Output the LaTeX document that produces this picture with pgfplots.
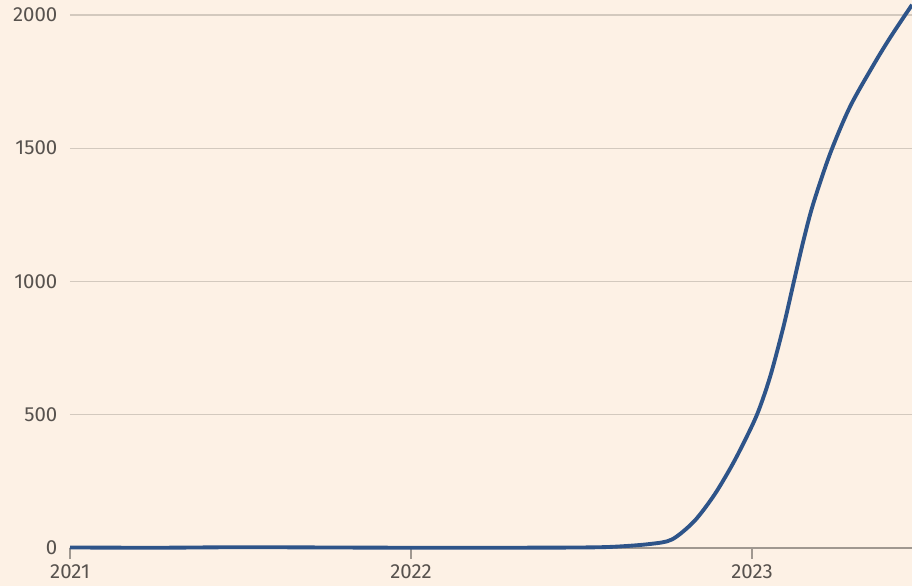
\documentclass[border=0pt]{standalone}
\usepackage{fontspec}
\setmainfont{Fira Sans}
\usepackage{pgfplots}
\pgfplotsset{compat=1.18}
\usetikzlibrary{backgrounds}
\definecolor{ftbg}{HTML}{FDF1E5}
\definecolor{ftline}{HTML}{2E5489}
\definecolor{ftgrid}{HTML}{D3C9BE}
\definecolor{fttext}{HTML}{57524E}
\definecolor{ftaxis}{HTML}{A09890}

\begin{document}
\begin{tikzpicture}
\begin{axis}[
  scale only axis,
  width=631.5pt,
  height=411pt,
  xmin=2021, xmax=2023.469,
  ymin=0, ymax=2056,
  axis line style={draw=none},
  xtick={2021,2022,2023},
  xticklabels={2021,2022,2023},
  ytick={0,500,1000,1500,2000},
  ymajorgrids=true,
  grid style={draw=ftgrid, line width=0.9pt},
  tick style={draw=ftaxis, line width=0.9pt},
  major tick length=8pt,
  xtick align=outside,
  ytick style={draw=none},
  xtick pos=bottom,
  ytick pos=left,
  /pgf/number format/assume math mode=true,
  /pgf/number format/1000 sep={},
  tick label style={font=\fontsize{15.3}{18}\selectfont, text=fttext},
  yticklabel style={anchor=east, xshift=-6pt},
  xticklabel style={yshift=-1pt},
  clip=false,
]
\addplot[ftaxis, line width=0.9pt, forget plot] coordinates {(2021,0) (2023.469,0)};
\addplot[ftline, line width=2.9pt, smooth, tension=0.5] coordinates {
  (2021.00,2) (2021.25,1) (2021.50,3) (2021.75,2) (2022.00,1)
  (2022.25,1) (2022.50,2) (2022.60,5) (2022.70,15) (2022.765,32)
  (2022.83,100) (2022.886,193) (2022.93,285) (2022.965,368)
  (2023.014,499) (2023.053,643) (2023.092,830) (2023.12,985)
  (2023.15,1150) (2023.179,1290) (2023.229,1480) (2023.287,1655)
  (2023.355,1810) (2023.405,1915) (2023.469,2038)
};
\coordinate (sw) at (rel axis cs:0,0);
\coordinate (ne) at (rel axis cs:1,1);
\end{axis}
\pgfresetboundingbox
\path ([xshift=-52.5pt,yshift=-28.5pt]sw) rectangle (ne);
\begin{pgfonlayer}{background}
\fill[ftbg] ([xshift=-52.5pt,yshift=-28.5pt]sw) rectangle (ne);
\end{pgfonlayer}
\end{tikzpicture}
\end{document}
